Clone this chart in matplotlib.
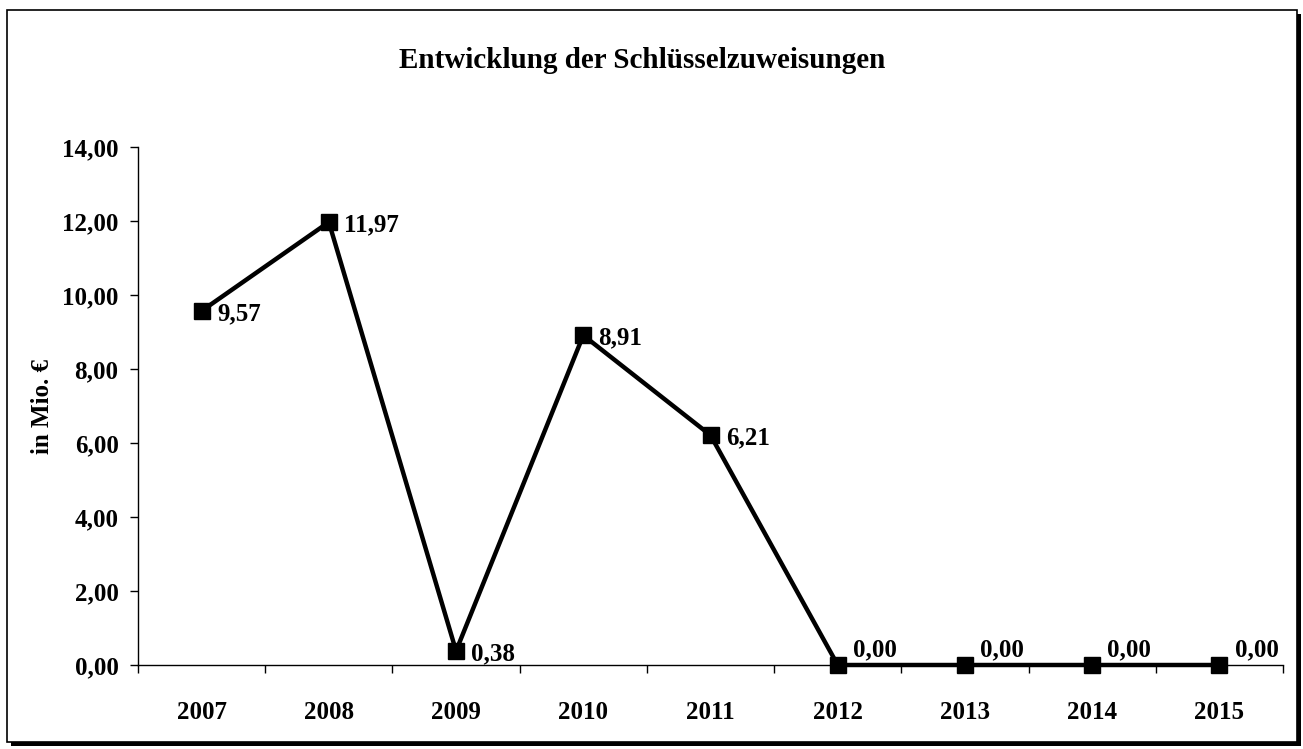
import matplotlib.pyplot as plt
from matplotlib.patches import Rectangle
from matplotlib.ticker import FuncFormatter, MultipleLocator

# Daten
YEARS = ["2007", "2008", "2009", "2010", "2011", "2012", "2013", "2014", "2015"]
VALUES = [9.57, 11.97, 0.38, 8.91, 6.21, 0.00, 0.00, 0.00, 0.00]

TITLE = "Entwicklung der Schlüsselzuweisungen"
YLABEL = "in Mio. €"

plt.rcParams["font.family"] = ["Liberation Serif", "DejaVu Serif"]
plt.rcParams["font.weight"] = "bold"


def de_fmt(v, _pos=None):
    return f"{v:.2f}".replace(".", ",")


fig = plt.figure(figsize=(13.03, 7.49), dpi=100)
W, H = 1303, 749

# Rahmen mit Schatten (Excel-Diagrammbereich)
fig.patches.append(Rectangle((11 / W, 3 / H), 1290 / W, 732 / H, transform=fig.transFigure,
                             facecolor="black", edgecolor="none", zorder=0))
fig.patches.append(Rectangle((7 / W, 7 / H), 1290 / W, 732 / H, transform=fig.transFigure,
                             facecolor="white", edgecolor="black", linewidth=1.2, zorder=1))

ax = fig.add_axes([138 / W, 1 - 665 / H, (1283 - 138) / W, (665 - 147) / H])
ax.set_zorder(2)
ax.patch.set_alpha(0)

x = list(range(len(YEARS)))
ax.plot(x, VALUES, color="black", linewidth=3.2, marker="s", markersize=12,
        markerfacecolor="black", markeredgecolor="black", clip_on=False, zorder=3)

for xi, v in zip(x, VALUES):
    dy = 11 if v == 0 else -2
    ax.annotate(de_fmt(v), (xi, v), xytext=(11, dy), textcoords="offset points",
                ha="left", va="center", fontsize=18, fontweight="bold")

ax.set_xlim(-0.5, len(YEARS) - 0.5)
ax.set_ylim(0, 14)
ax.yaxis.set_major_locator(MultipleLocator(2))
ax.yaxis.set_major_formatter(FuncFormatter(de_fmt))

# Kategorien mit Teilstrichen zwischen den Jahren
ax.set_xticks([i - 0.5 for i in range(len(YEARS) + 1)])
ax.set_xticklabels([])
ax.set_xticks(x, minor=True)
ax.set_xticklabels(YEARS, minor=True, fontsize=18, fontweight="bold")
ax.tick_params(axis="x", which="minor", length=0, pad=26)
ax.tick_params(axis="x", which="major", length=6, width=1, direction="out")
ax.tick_params(axis="y", length=6, width=1, direction="out", labelsize=18, pad=8)
for lbl in ax.get_yticklabels():
    lbl.set_fontweight("bold")

for s in ("top", "right"):
    ax.spines[s].set_visible(False)
ax.spines["left"].set_linewidth(1)
ax.spines["bottom"].set_linewidth(1)

ax.set_ylabel(YLABEL, fontsize=18, fontweight="bold", labelpad=6)

fig.text(642 / W, 1 - 60 / H, TITLE, ha="center", va="center", fontsize=21,
         fontweight="bold", zorder=3)

fig.savefig("out.png", dpi=100)
